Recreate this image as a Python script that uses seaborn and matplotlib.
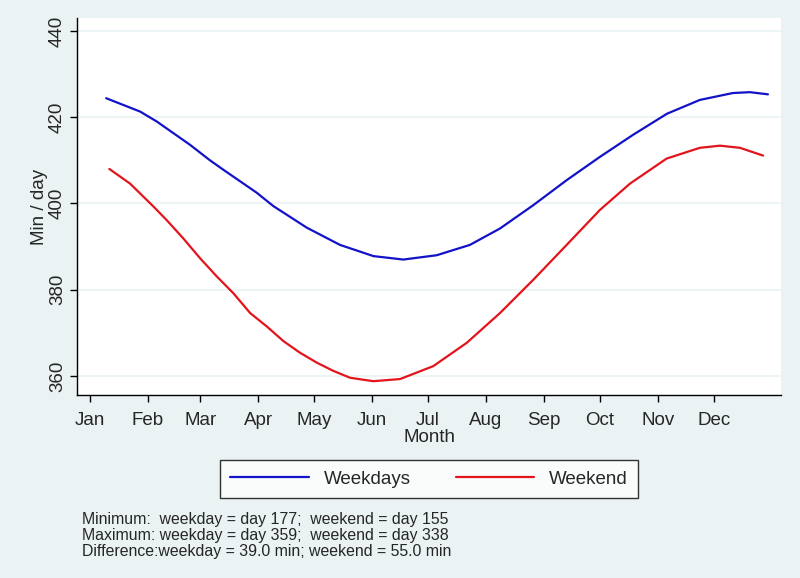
import numpy as np
import pandas as pd
import seaborn as sns
import matplotlib.pyplot as plt

# values (day of year, minutes per day)
weekday_days = [9.6, 27.8, 36.7, 54.5, 65.2, 72.4, 90.2, 99.1, 117.0, 134.8, 152.7, 168.7,
                186.6, 204.4, 220.5, 238.3, 256.2, 274.0, 291.7, 309.9, 327.5, 345.2,
                354.3, 364.0]
weekday_vals = [424.4, 421.3, 419.0, 413.6, 410.0, 407.8, 402.5, 399.4, 394.4, 390.4, 387.8, 387.0,
                388.0, 390.4, 394.2, 399.6, 405.4, 410.8, 415.9, 420.8, 424.0, 425.6,
                425.8, 425.3]

weekend_days = [11.3, 22.4, 34.9, 42.1, 50.9, 59.9, 68.8, 77.7, 86.7, 95.6, 104.5, 113.4,
                122.4, 131.2, 140.2, 152.7, 167.0, 184.8, 202.7, 220.5, 238.3, 256.2,
                274.0, 290.1, 309.7, 327.5, 338.3, 349.0, 361.4]
weekend_vals = [408.0, 404.6, 399.3, 396.1, 391.9, 387.3, 383.1, 379.2, 374.6, 371.5, 368.1, 365.4,
                363.1, 361.2, 359.6, 358.8, 359.3, 362.3, 367.7, 374.6, 382.3, 390.4,
                398.5, 404.6, 410.4, 412.9, 413.4, 412.9, 411.1]

month_starts = [1, 32, 60, 91, 121, 152, 182, 213, 244, 274, 305, 335]
month_labels = ["Jan", "Feb", "Mar", "Apr", "May", "Jun", "Jul", "Aug", "Sep", "Oct", "Nov", "Dec"]
y_ticks = [360, 380, 400, 420, 440]

notes = ("Minimum:  weekday = day 177;  weekend = day 155\n"
         "Maximum: weekday = day 359;  weekend = day 338\n"
         "Difference:weekday = 39.0 min; weekend = 55.0 min")

df = pd.concat([
    pd.DataFrame({"day": weekday_days, "value": weekday_vals, "series": "Weekdays"}),
    pd.DataFrame({"day": weekend_days, "value": weekend_vals, "series": "Weekend"}),
])

bg = "#eaf2f3"
blue = "#1212c8"
red = "#e3141b"
sns.set_style("white")
plt.rcParams["font.family"] = ["Liberation Sans", "DejaVu Sans"]

fig = plt.figure(figsize=(8, 5.78), dpi=100, facecolor=bg)
ax = fig.add_axes([0.0963, 0.3166, 0.8800, 0.6523])
ax.set_facecolor("white")

sns.lineplot(data=df, x="day", y="value", hue="series",
             palette={"Weekdays": blue, "Weekend": red},
             linewidth=1.6, ax=ax, legend=False, sort=False)

ax.set_xlim(-6, 371)
ax.set_ylim(355.6, 443)
ax.set_yticks(y_ticks)
ax.set_xticks(month_starts)
ax.set_xticklabels(month_labels)
ax.set_yticklabels([str(v) for v in y_ticks], rotation=90, va="center")
ax.grid(axis="y", color=bg, linewidth=1.2)
ax.grid(axis="x", visible=False)
ax.tick_params(axis="both", bottom=True, left=True, direction="out",
               length=5, width=1, color="black", labelsize=13.5)
ax.tick_params(axis="x", pad=7)
ax.tick_params(axis="y", pad=3)

for side in ["top", "right"]:
    ax.spines[side].set_visible(False)
for side in ["left", "bottom"]:
    ax.spines[side].set_color("black")
    ax.spines[side].set_linewidth(1.0)

ax.set_xlabel("Month", fontsize=13.5, labelpad=0)
ax.set_ylabel("Min / day", fontsize=13.5, labelpad=1)

handles = [plt.Line2D([], [], color=blue, linewidth=1.6),
           plt.Line2D([], [], color=red, linewidth=1.6)]
leg = fig.legend(handles, ["Weekdays", "Weekend"], ncol=2,
                 loc="center", bbox_to_anchor=(429 / 800, 1 - 479 / 578),
                 frameon=True, fancybox=False, fontsize=13.5,
                 handlelength=4.2, columnspacing=2.4, handletextpad=0.8,
                 borderpad=0.55)
leg.get_frame().set_edgecolor("black")
leg.get_frame().set_linewidth(1.0)
leg.get_frame().set_facecolor("white")

fig.text(82 / 800, 1 - 512 / 578, notes, fontsize=11.4, va="top", ha="left",
         linespacing=1.08)

fig.savefig("out.png", dpi=100, facecolor=bg)
